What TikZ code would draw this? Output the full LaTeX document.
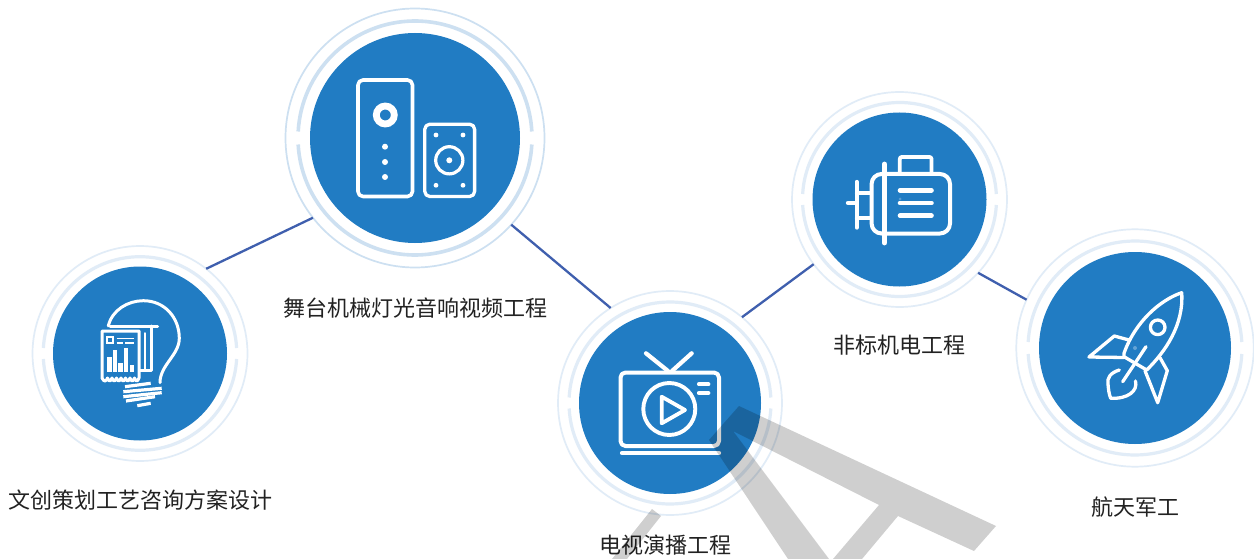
\documentclass[tikz,border=0pt]{standalone}
\usepackage{fontspec}
\setmainfont{Noto Sans CJK SC}
\definecolor{discblue}{HTML}{217CC3}
\definecolor{ringstrong}{HTML}{CDE0F1}
\definecolor{ringsoft}{HTML}{E1ECF7}
\definecolor{linkblue}{HTML}{3F5FAE}
\definecolor{labelink}{HTML}{222222}
\tikzset{
  ringouter/.style={circle,inner sep=0pt,outer sep=0pt,line width=1.7pt},
  disc/.style={circle,inner sep=0pt,outer sep=0pt,fill=discblue},
  link/.style={draw=linkblue,line width=2.3pt},
  caption/.style={font=\fontsize{22}{26}\selectfont,text=labelink,inner sep=0pt},
  ico/.style={draw=white,line width=3.6pt,line cap=round,line join=round},
  icothin/.style={draw=white,line width=3pt,line cap=round,line join=round},
  dot/.style={fill=white},
  wmark/.style={fill=black,fill opacity=0.19}
}
% name, x, y, blue r, mid r, outer r, half gap, colour, mid width
\newcommand{\badge}[9]{%
  \node[ringouter,draw=#8,minimum size=2*#6 pt] (#1) at (#2,#3) {};
  \pgfmathsetmacro{\gapang}{asin(#7/#5)}
  \pgfmathsetmacro{\gapstart}{\gapang}
  \pgfmathsetmacro{\gapend}{180-\gapang}
  \pgfmathsetmacro{\gapstartb}{180+\gapang}
  \pgfmathsetmacro{\gapendb}{360-\gapang}
  \draw[#8,line width=#9pt] ([shift={(#2,#3)}]\gapstart:#5pt) arc[start angle=\gapstart,end angle=\gapend,radius=#5pt];
  \draw[#8,line width=#9pt] ([shift={(#2,#3)}]\gapstartb:#5pt) arc[start angle=\gapstartb,end angle=\gapendb,radius=#5pt];
  \node[disc,minimum size=2*#4 pt] (#1-disc) at (#1) {};
}
\begin{document}
\begin{tikzpicture}[x=1pt,y=-1pt]
\useasboundingbox (0,0) rectangle (1254,559);
\fill[white] (0,0) rectangle (1254,559);

\badge{stage}{415}{138}{105}{117}{129.5}{6.5}{ringstrong}{3.6}
\badge{bulb}{140}{353.5}{87}{96.8}{107.5}{5.5}{ringsoft}{3.2}
\badge{tv}{670}{403}{91}{101}{112}{5.5}{ringsoft}{3.2}
\badge{motor}{899.5}{199.5}{87}{97}{107.5}{5.5}{ringsoft}{3.2}
\badge{rocket}{1135}{348}{96}{107}{118.7}{6}{ringsoft}{3.2}

\draw[link] (bulb.52.6) -- (stage.218.7);
\draw[link] (stage.-42.5) -- (tv.122.4);
\draw[link] (tv.50) -- (motor.217.9);
\draw[link] (motor.-43.9) -- (rocket.156.7);

\node[caption] (cap-stage) at (415.5,308) {舞台机械灯光音响视频工程};
\node[caption] (cap-bulb) at (140.5,500) {文创策划工艺咨询方案设计};
\node[caption] (cap-tv) at (665.5,545) {电视演播工程};
\node[caption] (cap-motor) at (899,345.5) {非标机电工程};
\node[caption] (cap-rocket) at (1135,507) {航天军工};

% speakers
\draw[ico,line width=3.6pt,rounded corners=5pt] (358,80) rectangle (412.5,196.5);
\draw[draw=white,line width=6.8pt] (385.3,115) circle[radius=9pt];
\foreach \yy in {146.7,162,177} \fill[dot] (385,\yy) circle[radius=3pt];
\draw[ico,line width=3.3pt,rounded corners=5pt] (424.8,124.2) rectangle (474.6,196.5);
\draw[draw=white,line width=3.2pt] (449.3,160.3) circle[radius=13.6pt];
\fill[dot] (449.3,160.3) circle[radius=3pt];
\foreach \xx/\yy in {436/135,463/135,436/185.3,463/185.3} \fill[dot] (\xx,\yy) circle[radius=2.4pt];

% bulb
\draw[icothin] (108.3,326) .. controls (112,310) and (128,300.7) .. (143.3,300.7)
  .. controls (165,300.7) and (179.3,318) .. (179.3,338.3)
  .. controls (179.3,355) and (160,365) .. (160,382.7);
\draw[icothin] (110,326) -- (157.7,326);
\draw[icothin] (151.7,326) -- (151.7,370.7) -- (140,370.7);
\draw[icothin,line width=2.4pt] (145,333.3) -- (145,370.7);
\draw[icothin] (102,331) -- (139,331) -- (139,378)
  .. controls (137.5,382) and (136,382) .. (134.5,378)
  .. controls (133,382) and (131.5,382) .. (130,378)
  .. controls (128.5,382) and (127,382) .. (125.5,378)
  .. controls (124,382) and (122.5,382) .. (121,378)
  .. controls (119.5,382) and (118,382) .. (116.5,378)
  .. controls (115,382) and (113.5,382) .. (112,378)
  .. controls (110.5,382) and (109,382) .. (107.5,378)
  .. controls (106,382) and (104,382) .. (102,378) -- cycle;
\draw[draw=white,line width=1.7pt] (107.3,337.3) rectangle (113.3,343.3);
\draw[draw=white,line width=1.6pt] (116.7,338.3) -- (134,338.3);
\draw[draw=white,line width=1.6pt] (116.7,342.7) -- (123.3,342.7);
\draw[draw=white,line width=1.6pt] (125.3,342.7) -- (134,342.7);
\fill[dot] (107.3,356.7) rectangle (111.7,371.7);
\fill[dot] (113,350) rectangle (116.7,371.7);
\fill[dot] (118.3,362.7) rectangle (122.7,371.7);
\fill[dot] (124,348.3) rectangle (128.3,371.7);
\fill[dot] (130,365) rectangle (134,371.7);
\draw[draw=white,line width=3.2pt] (125,386.7) -- (150.7,383.3);
\draw[draw=white,line width=3.2pt] (123.3,391.7) -- (161.7,388.3);
\draw[draw=white,line width=3.2pt] (123.3,396.7) -- (161.7,392.7);
\draw[draw=white,line width=3.2pt] (126,401) -- (155,396.7);
\draw[draw=white,line width=3.2pt] (137.3,405.7) -- (150.7,403.3);

% television
\draw[ico,line width=4pt,rounded corners=5pt] (620.5,372.5) rectangle (719,446);
\draw[ico,line width=4.2pt] (622,453) -- (719,453);
\draw[ico,line width=4.2pt] (646,353.3) -- (668,371);
\draw[ico,line width=4.2pt] (691.7,353.3) -- (672,371);
\draw[draw=white,line width=3.9pt] (669.3,409) circle[radius=26pt];
\draw[ico,line width=3.8pt] (661.7,396.7) -- (685,410) -- (661.7,423.3) -- cycle;
\draw[ico,line width=4.2pt] (699,384.3) -- (708.3,384.3);
\draw[ico,line width=4.2pt] (699,393) -- (708.3,393);

% motor
\draw[ico,line width=4pt,rounded corners=10pt] (871.6,174) rectangle (950,233.5);
\draw[ico,line width=3.8pt,rounded corners=2pt] (899.8,174) -- (899.8,157) -- (931.5,157) -- (931.5,174);
\draw[ico,line width=4.8pt] (884.3,164) -- (884.3,243);
\draw[ico,line width=4.4pt] (856.7,182) -- (856.7,227.5);
\draw[ico] (856.7,193.3) -- (870,193.3);
\draw[ico] (856.7,218.3) -- (870,218.3);
\draw[ico,line width=4.4pt] (848,203) -- (856.7,203);
\draw[ico,line width=4.6pt] (900,190.3) -- (931.5,190.3);
\draw[ico,line width=4.6pt] (900,203) -- (931.5,203);
\draw[ico,line width=4.6pt] (900,215.7) -- (931.5,215.7);

% rocket
\draw[icothin,line width=3.3pt] (1181.7,292.7) .. controls (1160,300) and (1135,322) .. (1124,353.3)
  -- (1124,356.7) -- (1146.7,370)
  .. controls (1165,352) and (1184,325) .. cycle;
\draw[icothin,line width=3.3pt] (1157.7,327.3) circle[radius=7.3pt];
\draw[icothin,line width=3.3pt] (1129,340) -- (1114.3,336) -- (1089,357) -- (1124,357.5);
\draw[icothin,line width=3.3pt] (1145,370.7) -- (1157.7,402.7) -- (1167.3,370.7) -- (1160,357.7);
\draw[icothin,line width=3.3pt] (1146,346.7) -- (1122.7,381.7);
\draw[icothin,line width=3.3pt] (1119.3,370) .. controls (1110,373) and (1107,378) .. (1108,384)
  .. controls (1108.5,390) and (1109,394) .. (1110.7,398.3)
  .. controls (1128,399) and (1138,391) .. (1135.5,381);
\fill[white,fill opacity=0.3] (1135,348) circle[radius=2pt];
\fill[white,fill opacity=0.25] (900,199) circle[radius=1.5pt];

% watermark
\fill[wmark] (739,406) -- (996,526) -- (974,551) -- (898,516) -- (862,559) -- (833,559)
  -- (879,505) -- (733,431) -- (829,559) -- (788,559) -- (709,440) -- cycle;
\fill[wmark] (652,509) -- (661,516) -- (627,559) -- (612,559) -- cycle;
\end{tikzpicture}
\end{document}
